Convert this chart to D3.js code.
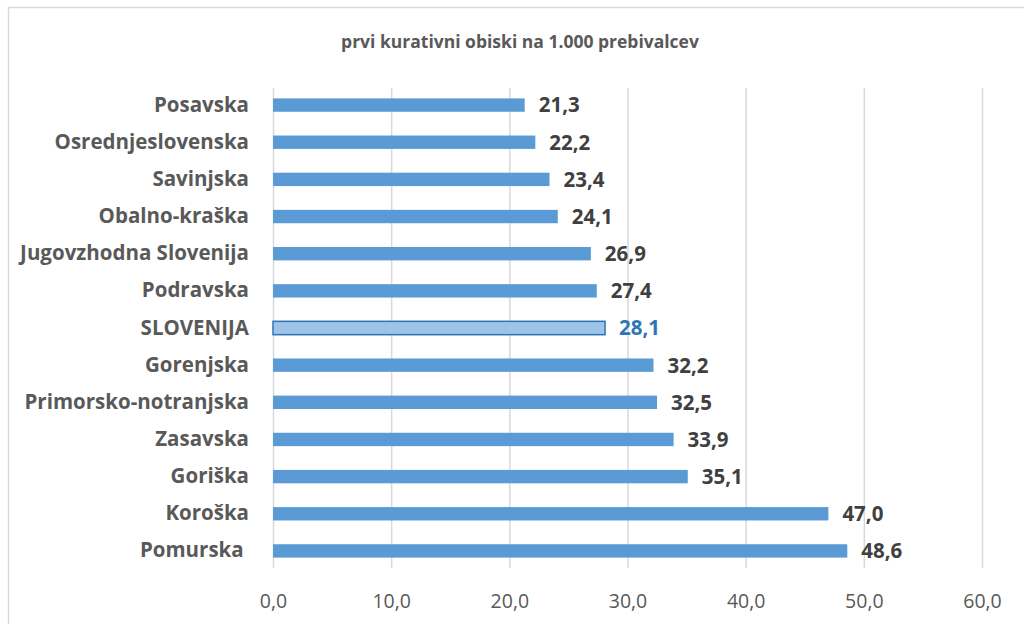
<!DOCTYPE html>
<html><head><meta charset="utf-8">
<script src="https://cdn.jsdelivr.net/npm/d3@7"></script>
<style>body{margin:0;background:#fff}svg{display:block}</style>
</head><body>
<svg id="c" width="1024" height="624"></svg>
<script>
const categories = ["Posavska","Osrednjeslovenska","Savinjska","Obalno-kraška","Jugovzhodna Slovenija","Podravska","SLOVENIJA","Gorenjska","Primorsko-notranjska","Zasavska","Goriška","Koroška","Pomurska "];
const values = [21.3,22.2,23.4,24.1,26.9,27.4,28.1,32.2,32.5,33.9,35.1,47.0,48.6];
const highlight = "SLOVENIJA";
const ticks = [0,10,20,30,40,50,60];
const title = "prvi kurativni obiski na 1.000 prebivalcev";

const svg = d3.select("#c");
const font = "'Open Sans', sans-serif";
svg.append("rect").attr("x",8.5).attr("y",7.5).attr("width",1100).attr("height",700)
  .attr("fill","#fff").attr("stroke","#d9d9d9").attr("stroke-width",1.5);

svg.append("text").attr("x",520).attr("y",48).attr("text-anchor","middle")
  .attr("font-family",font).attr("font-weight","bold").attr("font-size",17.5)
  .attr("fill","#595959").text(title);

const x = d3.scaleLinear().domain([0,60]).range([273,982]);
const y = d3.scaleBand().domain(categories).range([86.5,569.5]).paddingInner(0.64).paddingOuter(0.32);

const gx = svg.append("g").attr("transform","translate(0,568)")
  .call(d3.axisBottom(x).tickValues(ticks).tickSize(-480).tickPadding(26)
    .tickFormat(d=>d3.format(".1f")(d).replace(".",",")));
gx.select(".domain").remove();
gx.selectAll(".tick line").attr("stroke","#d9d9d9").attr("stroke-width",1.5);
gx.selectAll(".tick text").attr("font-family",font).attr("font-size",19.5).attr("fill","#595959");

const gy = svg.append("g").attr("transform","translate(273,0)")
  .call(d3.axisLeft(y).tickSize(0).tickPadding(24));
gy.select(".domain").remove();
gy.selectAll(".tick text").attr("font-family",font).attr("font-weight","bold")
  .attr("font-size",20.5).attr("fill","#595959").style("white-space","pre");

const data = categories.map((c,i)=>({c,v:values[i]}));
svg.append("g").selectAll("rect").data(data).join("rect")
  .attr("x",x(0)).attr("y",d=>y(d.c)).attr("height",y.bandwidth())
  .attr("width",d=>x(d.v)-x(0))
  .attr("fill",d=>d.c===highlight?"#9dc3e6":"#5b9bd5")
  .attr("stroke",d=>d.c===highlight?"#2e75b6":"none")
  .attr("stroke-width",1.5);

svg.append("g").selectAll("text").data(data).join("text")
  .attr("x",d=>x(d.v)+14).attr("y",d=>y(d.c)+y.bandwidth()/2).attr("dy","0.36em")
  .attr("font-family",font).attr("font-weight","bold").attr("font-size",20.5)
  .attr("fill",d=>d.c===highlight?"#2e75b6":"#404040")
  .text(d=>d3.format(".1f")(d.v).replace(".",","));
</script>
</body></html>
